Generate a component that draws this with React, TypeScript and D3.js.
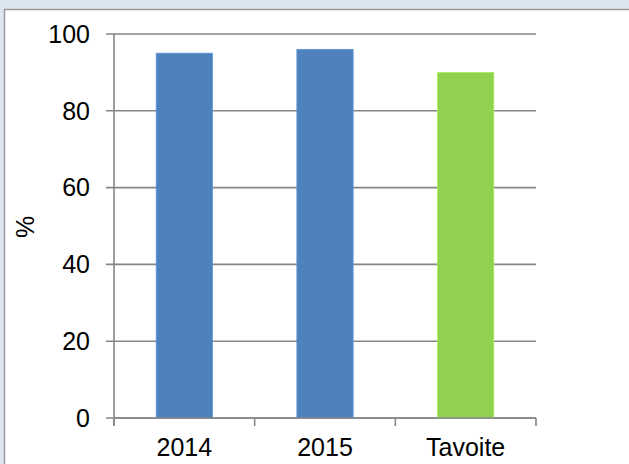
import React from "react";
import * as d3 from "d3";

const categories = ["2014", "2015", "Tavoite"];
const values = [95, 96, 90];
const barColors = ["#4f81bd", "#4f81bd", "#92d050"];
const yTicks = [0, 20, 40, 60, 80, 100];
const yLabel = "%";

const W = 629;
const H = 464;
const plot = { left: 114, right: 536, top: 34, bottom: 418 };
const gridColor = "#868686";
const font = "Arial, 'Liberation Sans', sans-serif";

export default function App() {
  const x = d3
    .scaleBand<string>()
    .domain(categories)
    .range([plot.left, plot.right])
    .paddingInner(0.6)
    .paddingOuter(0.3);
  const band = d3.scaleBand<string>().domain(categories).range([plot.left, plot.right]);
  const y = d3.scaleLinear().domain([0, 100]).range([plot.bottom, plot.top]);

  const xTickPos = [plot.left, ...categories.map((c) => (band(c) as number) + band.bandwidth())];

  return (
    <svg
      width={W}
      height={H}
      style={{ position: "fixed", left: 0, top: 0, display: "block" }}
      fontFamily={font}
    >
      <rect x={0} y={0} width={W} height={H} fill="#dce6f0" />
      <rect x={4.5} y={9.5} width={W + 10} height={H + 10} fill="#ffffff" stroke="#9a9a9a" strokeWidth={1.5} />
      {/* gridlines */}
      {yTicks.map((t) => (
        <line
          key={"g" + t}
          x1={plot.left - 8}
          x2={plot.right}
          y1={y(t)}
          y2={y(t)}
          stroke={gridColor}
          strokeWidth={1.6}
        />
      ))}
      {/* bars */}
      {categories.map((c, i) => (
        <rect
          key={c}
          x={x(c)}
          y={y(values[i])}
          width={x.bandwidth()}
          height={plot.bottom - y(values[i])}
          fill={barColors[i]}
          stroke={d3.color(barColors[i])!.brighter(0.4).toString()}
          strokeWidth={0.8}
        />
      ))}
      {/* y axis */}
      <line x1={plot.left} x2={plot.left} y1={plot.top} y2={plot.bottom + 8} stroke={gridColor} strokeWidth={1.6} />
      {/* x axis */}
      <line x1={plot.left} x2={plot.right} y1={plot.bottom} y2={plot.bottom} stroke={gridColor} strokeWidth={1.6} />
      {xTickPos.map((p, i) => (
        <line key={"xt" + i} x1={p} x2={p} y1={plot.bottom} y2={plot.bottom + 8} stroke={gridColor} strokeWidth={1.6} />
      ))}
      {/* y tick labels */}
      {yTicks.map((t) => (
        <text
          key={"yl" + t}
          x={90}
          y={y(t)}
          dy="0.35em"
          textAnchor="end"
          fontSize={25}
          fill="#000"
        >
          {t}
        </text>
      ))}
      {/* x labels */}
      {categories.map((c) => (
        <text
          key={"xl" + c}
          x={(band(c) as number) + band.bandwidth() / 2}
          y={456}
          textAnchor="middle"
          fontSize={25}
          fill="#000"
        >
          {c}
        </text>
      ))}
      <text
        transform={`translate(34, 227) rotate(-90)`}
        textAnchor="middle"
        fontSize={25}
        fill="#000"
      >
        {yLabel}
      </text>
    </svg>
  );
}
